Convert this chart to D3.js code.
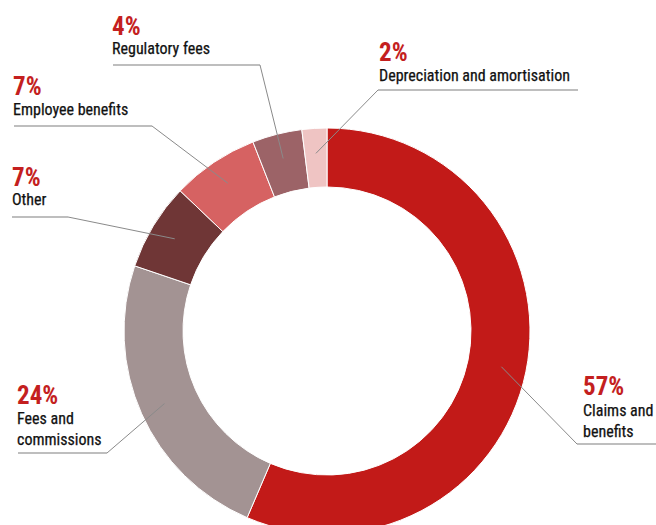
<!DOCTYPE html>
<html><head><meta charset="utf-8">
<script src="https://cdn.jsdelivr.net/npm/d3@7"></script>
<style>body{margin:0;background:#fff}svg{display:block}</style>
</head><body><svg id="chart" width="656" height="525"></svg>
<script>
// Operating expense breakdown, clockwise from 12 o'clock
const categories = ["Claims and benefits", "Fees and commissions", "Other", "Employee benefits", "Regulatory fees", "Depreciation and amortisation"];
const shares = [57, 24, 7, 7, 4, 2];
const sliceColors = ["#c21a18", "#a39393", "#6f3636", "#d66262", "#9c6367", "#efc4c3"];
const labelLines = [["Claims and", "benefits"], ["Fees and", "commissions"], ["Other"], ["Employee benefits"], ["Regulatory fees"], ["Depreciation and amortisation"]];

// Callout placement: text origin, baselines, elbow of the leader and extent of the rule under the text
const callouts = [
  {x: 583, y: 395, lines: [416, 437], elbow: [577, 444], rule: [577, 656]},
  {x: 17,  y: 404, lines: [424, 445], elbow: [107, 453], rule: [18, 107]},
  {x: 12,  y: 186, lines: [205],      elbow: [68, 217],  rule: [12, 68]},
  {x: 13,  y: 95,  lines: [115],      elbow: [152, 126], rule: [14, 152]},
  {x: 112, y: 35,  lines: [54],       elbow: [260, 65],  rule: [113, 260]},
  {x: 379, y: 61,  lines: [81],       elbow: [378, 90],  rule: [378, 578]}
];

const cx = 327, cy = 331, rInner = 144, rOuter = 203, rLeader = 178;
const FONT = "'Liberation Sans Narrow', 'Arial Narrow', 'Roboto Condensed', sans-serif";

const svg = d3.select("#chart");
const pie = d3.pie().sort(null).value(d => d)(shares);
const arc = d3.arc().innerRadius(rInner).outerRadius(rOuter);
const leaderArc = d3.arc().innerRadius(rLeader).outerRadius(rLeader);

const g = svg.append("g").attr("transform", `translate(${cx},${cy})`);
g.selectAll("path.slice").data(pie).join("path")
  .attr("class", "slice")
  .attr("d", arc)
  .attr("fill", (d, i) => sliceColors[i])
  .attr("stroke", "#fff")
  .attr("stroke-width", 1);

// Leader lines: rule under the callout text, then a diagonal into the slice
const leaders = svg.append("g");
callouts.forEach((c, i) => {
  const [px, py] = leaderArc.centroid(pie[i]);
  leaders.append("line")
    .attr("x1", c.rule[0]).attr("x2", c.rule[1])
    .attr("y1", c.elbow[1]).attr("y2", c.elbow[1])
    .attr("stroke", "#a8a8a8").attr("stroke-width", 1.3);
  leaders.append("line")
    .attr("x1", c.elbow[0]).attr("y1", c.elbow[1])
    .attr("x2", cx + px).attr("y2", cy + py)
    .attr("stroke", "#8a8a8a").attr("stroke-width", 1);
});

// Callout text
const labels = svg.append("g").attr("font-family", FONT);
callouts.forEach((c, i) => {
  labels.append("text")
    .attr("x", c.x).attr("y", c.y)
    .attr("font-size", 25).attr("font-weight", "bold")
    .attr("fill", "#c41f1f")
    .text(shares[i] + "%");
  labelLines[i].forEach((t, j) => {
    labels.append("text")
      .attr("x", c.x).attr("y", c.lines[j])
      .attr("font-size", 16)
      .attr("fill", "#111")
      .attr("stroke", "#111").attr("stroke-width", 0.25)
      .text(t);
  });
});
</script>
</body></html>
